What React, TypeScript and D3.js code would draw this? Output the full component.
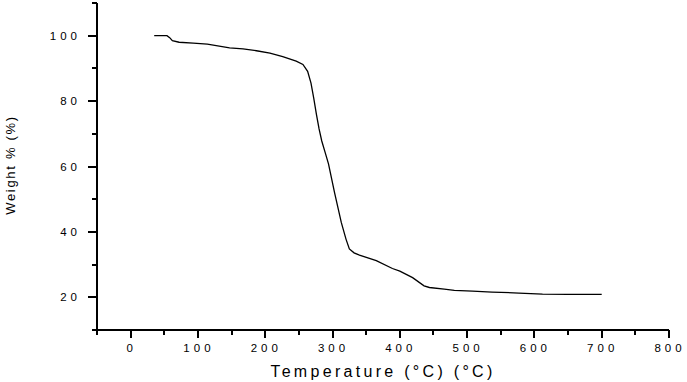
import React from "react";
import * as d3 from "d3";

// TGA curve
const temps = [35, 54, 58, 62, 72, 93, 114, 147, 167, 187, 207, 226, 246, 256, 263, 268, 272, 276, 280, 284, 289, 294, 303, 313, 320, 325, 332, 340, 365, 389, 400, 419, 436, 444, 466, 481, 508, 537, 577, 612, 650, 700];
const weights = [100, 100, 99.4, 98.5, 98.0, 97.7, 97.4, 96.3, 96.0, 95.4, 94.7, 93.6, 92.2, 91.2, 89.1, 85.5, 81.0, 76.0, 71.5, 67.8, 64.3, 60.8, 52.0, 42.9, 37.8, 34.8, 33.6, 32.9, 31.2, 28.8, 28.0, 26.0, 23.5, 23.0, 22.5, 22.1, 21.9, 21.6, 21.3, 21.0, 20.9, 20.9];

const xMajor = [0, 100, 200, 300, 400, 500, 600, 700, 800];
const xMinor = [-50, 50, 150, 250, 350, 450, 550, 650, 750];
const yMajor = [20, 40, 60, 80, 100];
const yMinor = [10, 30, 50, 70, 90, 110];

const W = 687;
const H = 382;
const left = 97;
const right = 669;
const top = 3;
const bottom = 330;

export default function App() {
    const x = d3.scaleLinear().domain([-50, 800]).range([left, right]);
    const y = d3.scaleLinear().domain([10, 110]).range([bottom, top]);

    const pts: [number, number][] = temps.map((t, i) => [t, weights[i]]);
    const line = d3
        .line<[number, number]>()
        .x((d) => x(d[0]))
        .y((d) => y(d[1]));

    const font = "'Liberation Sans', Arial, sans-serif";

    return (
        <svg
            width={W}
            height={H}
            style={{ position: "absolute", left: 0, top: 0, background: "#fff" }}
        >
            <path d={line(pts) || ""} fill="none" stroke="#000" strokeWidth={1.3} />

            {/* axes */}
            <g stroke="#000" strokeWidth={2} shapeRendering="crispEdges">
                <line x1={left} x2={left} y1={top} y2={bottom + 1} />
                <line x1={left - 1} x2={right} y1={bottom} y2={bottom} />
                {xMajor.map((v) => (
                    <line key={"xM" + v} x1={x(v)} x2={x(v)} y1={bottom} y2={bottom + 8} />
                ))}
                {xMinor.map((v) => (
                    <line key={"xm" + v} x1={x(v)} x2={x(v)} y1={bottom} y2={bottom + 5} />
                ))}
                {yMajor.map((v) => (
                    <line key={"yM" + v} x1={left - 9} x2={left} y1={y(v)} y2={y(v)} />
                ))}
                {yMinor.map((v) => (
                    <line key={"ym" + v} x1={left - 5} x2={left} y1={y(v)} y2={y(v)} />
                ))}
            </g>

            <g fontFamily={font} fontSize={11.5} fill="#000" letterSpacing={4}>
                {xMajor.map((v) => (
                    <text key={"xl" + v} x={x(v) + 1} y={352} textAnchor="middle">
                        {v}
                    </text>
                ))}
                {yMajor.map((v) => (
                    <text key={"yl" + v} x={81} y={y(v) + 4} textAnchor="end">
                        {v}
                    </text>
                ))}
            </g>

            <text
                x={383}
                y={377}
                textAnchor="middle"
                fontFamily={font}
                fontSize={16}
                letterSpacing={3.3}
            >
                Temperature (°C) (°C)
            </text>
            <text
                transform="translate(15,165) rotate(-90)"
                textAnchor="middle"
                fontFamily={font}
                fontSize={13}
                letterSpacing={1.7}
            >
                Weight % (%)
            </text>
        </svg>
    );
}
